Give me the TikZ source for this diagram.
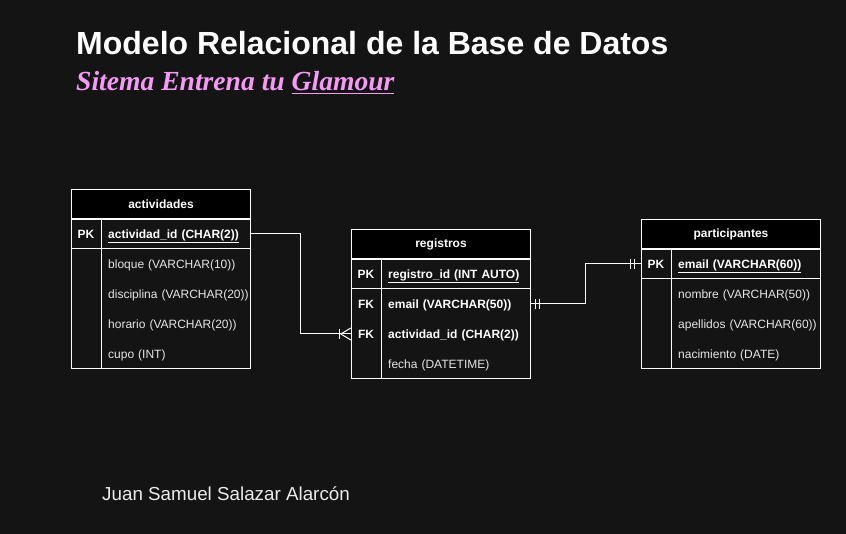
\documentclass[tikz,border=0pt]{standalone}
\usepackage{fontspec}
\setmainfont{Liberation Sans}
\newfontfamily\serifbi{Liberation Serif}
\definecolor{bg}{HTML}{141414}
\definecolor{pinkt}{HTML}{F59AF5}
\definecolor{fldc}{HTML}{E6E6E6}
\begin{document}
\begin{tikzpicture}[x=1pt,y=-1pt,
  hdr/.style={draw=white, fill=black, line width=1pt, minimum width=179pt, minimum height=30pt, anchor=north west, inner sep=0pt, font=\fontsize{12}{14}\selectfont\bfseries, text=white},
  keyc/.style={minimum width=30pt, minimum height=30pt, inner sep=0pt, font=\fontsize{12}{14}\selectfont\bfseries, text=white},
  fld/.style={anchor=west, text width=142pt, text height=10.4pt, text depth=2.2pt, inner xsep=0pt, inner ysep=0pt, minimum height=30pt, align=left, font=\fontsize{12}{14}\selectfont, text=fldc},
  fldb/.style={fld, font=\fontsize{12}{14}\selectfont\bfseries, text=white},
  tbl/.style={draw=white, line width=1pt},
  conn/.style={draw=white, line width=1pt}]
\fill[bg] (0,0) rectangle (846,534);
\useasboundingbox (0,0) rectangle (846,534);

% titles
\node[anchor=base west, inner sep=0pt, font=\fontsize{32}{36}\selectfont\bfseries, text=white] (title) at (76,55) {Modelo Relacional de la Base de Datos};
\node[anchor=base west, inner sep=0pt, font=\serifbi\fontsize{27.6}{30}\selectfont\bfseries\itshape, text=pinkt] (sub) at (76,91) {Sitema Entrena tu \underline{Glamour}};
\node[anchor=base west, inner sep=0pt, font=\fontsize{18.8}{22}\selectfont, text=white!92!black] (author) at (102,500) {Juan Samuel Salazar Alarcón};

% actividades
\node[hdr] (act) at (71,189) {actividades};
\draw[tbl] (71,219) rectangle (250,369);
\draw[tbl] (71,249) -- (250,249);
\draw[tbl] (101,219) -- (101,369);
\node[keyc] (act-k1) at (86,234) {PK};
\node[fldb] (act-f1) at (108,234) {\underline{actividad\_id (CHAR(2))}};
\node[fld] (act-f2) at (108,264) {bloque (VARCHAR(10))};
\node[fld] (act-f3) at (108,294) {disciplina (VARCHAR(20))};
\node[fld] (act-f4) at (108,324) {horario (VARCHAR(20))};
\node[fld] (act-f5) at (108,354) {cupo (INT)};

% registros
\node[hdr] (reg) at (351,229) {registros};
\draw[tbl] (351,259) rectangle (530,379);
\draw[tbl] (351,289) -- (530,289);
\draw[tbl] (381,259) -- (381,379);
\node[keyc] (reg-k1) at (366,274) {PK};
\node[keyc] (reg-k2) at (366,304) {FK};
\node[keyc] (reg-k3) at (366,334) {FK};
\node[fldb] (reg-f1) at (388,274) {\underline{registro\_id (INT AUTO)}};
\node[fldb] (reg-f2) at (388,304) {email (VARCHAR(50))};
\node[fldb] (reg-f3) at (388,334) {actividad\_id (CHAR(2))};
\node[fld] (reg-f4) at (388,364) {fecha (DATETIME)};

% participantes
\node[hdr] (par) at (641,219) {participantes};
\draw[tbl] (641,249) rectangle (820,369);
\draw[tbl] (641,279) -- (820,279);
\draw[tbl] (671,249) -- (671,369);
\node[keyc] (par-k1) at (656,264) {PK};
\node[fldb] (par-f1) at (678,264) {\underline{email (VARCHAR(60))}};
\node[fld] (par-f2) at (678,294) {nombre (VARCHAR(50))};
\node[fld] (par-f3) at (678,324) {apellidos (VARCHAR(60))};
\node[fld] (par-f4) at (678,354) {nacimiento (DATE)};

% connectors
\draw[conn] (act-f1.east) -- ++(50,0) |- (reg-k3.west);
\draw[conn] ([xshift=-11pt,yshift=5pt]reg-k3.west) -- ([xshift=-11pt,yshift=-5pt]reg-k3.west);
\draw[conn] ([yshift=6pt]reg-k3.west) -- ([xshift=-10pt]reg-k3.west) -- ([yshift=-6pt]reg-k3.west);

\draw[conn] (reg-f2.east) -- ++(55,0) |- (par-k1.west);
\draw[conn] ([xshift=5pt,yshift=5pt]reg-f2.east) -- ([xshift=5pt,yshift=-5pt]reg-f2.east);
\draw[conn] ([xshift=9pt,yshift=5pt]reg-f2.east) -- ([xshift=9pt,yshift=-5pt]reg-f2.east);
\draw[conn] ([xshift=-10pt,yshift=5pt]par-k1.west) -- ([xshift=-10pt,yshift=-5pt]par-k1.west);
\draw[conn] ([xshift=-6pt,yshift=5pt]par-k1.west) -- ([xshift=-6pt,yshift=-5pt]par-k1.west);
\end{tikzpicture}
\end{document}
